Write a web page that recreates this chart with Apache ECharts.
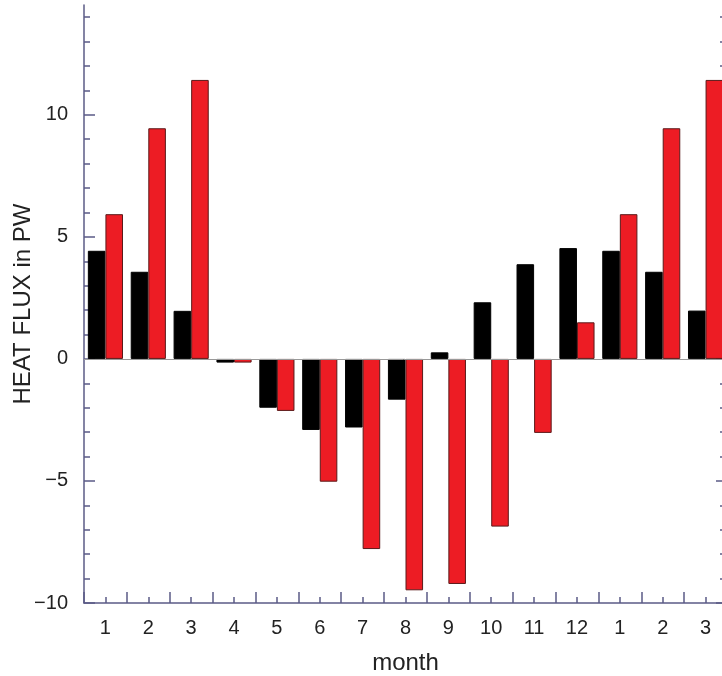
<!DOCTYPE html>
<html>
<head>
<meta charset="utf-8">
<script src="https://cdn.jsdelivr.net/npm/echarts@6/dist/echarts.min.js"></script>
<style>
  html, body { margin: 0; padding: 0; background: #fff; }
  #chart { width: 722px; height: 676px; }
</style>
</head>
<body>
<div id="chart"></div>
<script>
// months, two annual cycles overlap at the ends
var months = ['1', '2', '3', '4', '5', '6', '7', '8', '9', '10', '11', '12', '1', '2', '3'];
// black bars
var fluxBlack = [4.43, 3.57, 1.97, -0.15, -2.0, -2.91, -2.81, -1.67, 0.27, 2.32, 3.88, 4.54, 4.43, 3.57, 1.98];
// red bars
var fluxRed = [5.93, 9.45, 11.43, -0.15, -2.13, -5.03, -7.79, -9.48, -9.22, -6.87, -3.03, 1.50, 5.93, 9.45, 11.43];
// y ticks
var majorTicks = [-10, -5, 0, 5, 10];
var minorTicks = [-9, -8, -7, -6, -4, -3, -2, -1, 1, 2, 3, 4, 6, 7, 8, 9, 11, 12, 13, 14];

var axisColor = '#5b5b86';
var font = 'Liberation Sans';

function yAx(pos, withLine, ticks, len, labels) {
  return {
    type: 'value',
    min: -10,
    max: 14.5,
    position: pos,
    name: labels ? 'HEAT FLUX in PW' : '',
    nameLocation: 'middle',
    nameGap: 49,
    nameMoveOverlap: false,
    nameTextStyle: { fontFamily: font, fontSize: 24, color: '#222' },
    axisLine: { show: withLine, lineStyle: { color: axisColor, width: 1.5 } },
    axisTick: { show: true, inside: true, length: len, customValues: ticks, lineStyle: { color: axisColor, width: 1.5 } },
    splitLine: { show: false },
    axisLabel: labels
      ? {
          show: true, customValues: majorTicks, margin: 16, fontFamily: font, fontSize: 20, color: '#222',
          formatter: function (v) { return String(v).replace('-', '\u2212'); }
        }
      : { show: false }
  };
}

var chart = echarts.init(document.getElementById('chart'));
var option = {
  animation: false,
  grid: { left: 84, right: -5, top: 5, bottom: 73, outerBoundsMode: 'none', containLabel: false },
  xAxis: [
    {
      type: 'category',
      data: months,
      boundaryGap: true,
      name: 'month',
      nameLocation: 'middle',
      nameGap: 48,
      nameTextStyle: { fontFamily: font, fontSize: 24, color: '#222' },
      axisLine: { show: true, onZero: false, lineStyle: { color: axisColor, width: 1.5 } },
      axisTick: { show: true, interval: 0, inside: true, length: 11, lineStyle: { color: axisColor, width: 1.5 } },
      axisLabel: { interval: 0, margin: 15, fontFamily: font, fontSize: 20, color: '#222' }
    },
    {
      // short ticks at category centres
      type: 'category',
      data: months,
      position: 'bottom',
      axisLine: { show: false, onZero: false },
      axisTick: { show: true, interval: 0, inside: true, alignWithLabel: true, length: 6, lineStyle: { color: axisColor, width: 1.5 } },
      axisLabel: { show: false }
    }
  ],
  yAxis: [
    yAx('left', true, majorTicks, 11, true),
    yAx('left', false, minorTicks, 6, false),
    yAx('right', true, majorTicks, 11, false),
    yAx('right', false, minorTicks, 7, false)
  ],
  series: [
    {
      type: 'bar',
      data: fluxBlack,
      barGap: '0%',
      barCategoryGap: '18%',
      itemStyle: { color: '#000', borderColor: '#000', borderWidth: 1 },
      markLine: {
        silent: true,
        symbol: 'none',
        label: { show: false },
        lineStyle: { color: '#999', width: 1, type: 'solid' },
        data: [{ yAxis: 0 }]
      }
    },
    {
      type: 'bar',
      data: fluxRed,
      itemStyle: { color: '#ed1c24', borderColor: '#5a1a1a', borderWidth: 1 }
    }
  ]
};
chart.setOption(option);
</script>
</body>
</html>
